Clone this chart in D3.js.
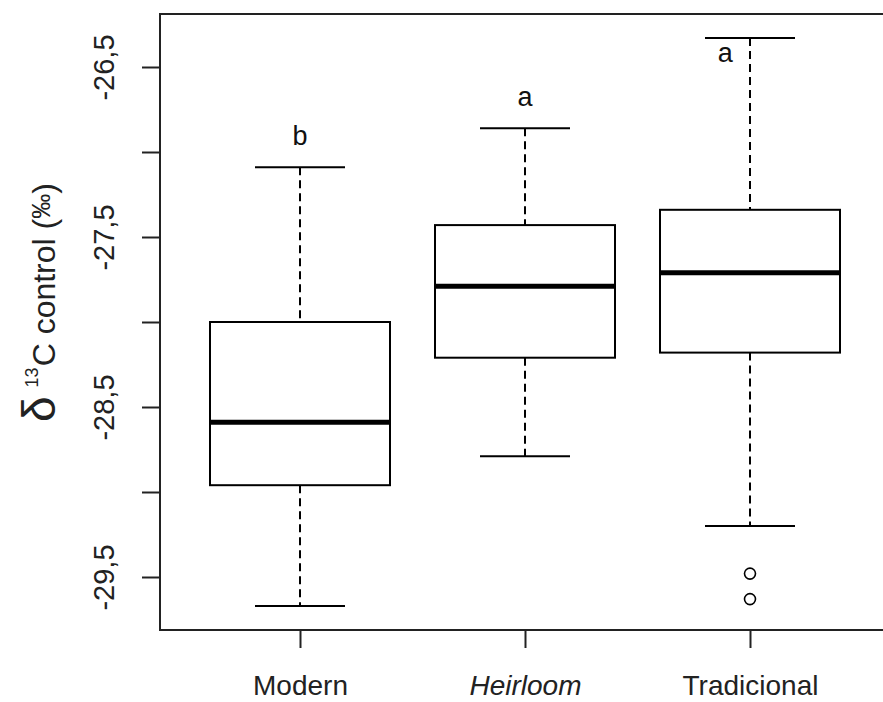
<!DOCTYPE html>
<html>
<head>
<meta charset="utf-8">
<script src="https://cdn.jsdelivr.net/npm/d3@7"></script>
<style>
  html, body { margin: 0; padding: 0; background: #fff; }
  svg { display: block; font-family: "Liberation Sans", Arial, sans-serif; }
</style>
</head>
<body>
<svg id="chart" width="883" height="702"></svg>
<script>
// Carbon isotope composition (δ13C, ‰) by cultivar group
const categories   = ["Modern", "Heirloom", "Tradicional"];
const italicCats   = [false, true, false];
const whiskerHigh  = [-27.09, -26.86, -26.33];
const upperQuart   = [-28.00, -27.43, -27.34];
const medians      = [-28.59, -27.79, -27.71];
const lowerQuart   = [-28.96, -28.21, -28.18];
const whiskerLow   = [-29.67, -28.79, -29.20];
const outliers     = [[], [], [-29.48, -29.63]];
const groupLetters = ["b", "a", "a"];
const letterValues = [-26.96, -26.73, -26.47];
const letterShift  = [0, 0, -0.11];   // horizontal offset of letter, in group units
const yTicks       = [-26.5, -27, -27.5, -28, -28.5, -29, -29.5];
const yTickLabels  = ["-26,5", "", "-27,5", "", "-28,5", "", "-29,5"];

const svg = d3.select("#chart");
const frame = { left: 160, top: 14, right: 905, bottom: 630 };

const x = d3.scaleLinear().domain([1, 3]).range([300, 750]);
const y = d3.scaleLinear().domain([-26.5, -29.5]).range([67, 577]);
const unit = x(2) - x(1);
const boxHalf = unit * 0.4;
const capHalf = unit * 0.2;

const groups = svg.append("g").selectAll("g")
  .data(categories.map((c, i) => ({
    i, c, hi: whiskerHigh[i], q3: upperQuart[i], med: medians[i],
    q1: lowerQuart[i], lo: whiskerLow[i], out: outliers[i]
  })))
  .join("g")
  .attr("transform", d => `translate(${x(d.i + 1)},0)`);

// dashed whiskers
groups.append("line")
  .attr("x1", 0).attr("x2", 0)
  .attr("y1", d => y(d.hi)).attr("y2", d => y(d.q3))
  .attr("stroke", "#000").attr("stroke-width", 2).attr("stroke-dasharray", "8,5");
groups.append("line")
  .attr("x1", 0).attr("x2", 0)
  .attr("y1", d => y(d.q1)).attr("y2", d => y(d.lo))
  .attr("stroke", "#000").attr("stroke-width", 2).attr("stroke-dasharray", "8,5");

// whisker caps
groups.selectAll("line.cap")
  .data(d => [d.hi, d.lo])
  .join("line").attr("class", "cap")
  .attr("x1", -capHalf).attr("x2", capHalf)
  .attr("y1", v => y(v)).attr("y2", v => y(v))
  .attr("stroke", "#000").attr("stroke-width", 2);

// boxes
groups.append("rect")
  .attr("x", -boxHalf).attr("width", boxHalf * 2)
  .attr("y", d => y(d.q3)).attr("height", d => y(d.q1) - y(d.q3))
  .attr("fill", "#fff").attr("stroke", "#000").attr("stroke-width", 2);

// medians
groups.append("line")
  .attr("x1", -boxHalf).attr("x2", boxHalf)
  .attr("y1", d => y(d.med)).attr("y2", d => y(d.med))
  .attr("stroke", "#000").attr("stroke-width", 5);

// outliers
groups.selectAll("circle")
  .data(d => d.out)
  .join("circle")
  .attr("cx", 0).attr("cy", v => y(v)).attr("r", 5.5)
  .attr("fill", "none").attr("stroke", "#000").attr("stroke-width", 1.6);

// significance letters
svg.append("g").selectAll("text")
  .data(groupLetters)
  .join("text")
  .attr("x", (d, i) => x(i + 1 + letterShift[i]))
  .attr("y", (d, i) => y(letterValues[i]))
  .attr("text-anchor", "middle")
  .attr("font-size", 27)
  .attr("fill", "#111")
  .text(d => d);

// plot frame
svg.append("rect")
  .attr("x", frame.left).attr("y", frame.top)
  .attr("width", frame.right - frame.left).attr("height", frame.bottom - frame.top)
  .attr("fill", "none").attr("stroke", "#222").attr("stroke-width", 2);

// y axis
const yAxis = svg.append("g")
  .attr("transform", `translate(${frame.left},0)`)
  .call(d3.axisLeft(y).tickValues(yTicks).tickSize(18).tickFormat(""));
yAxis.select(".domain").remove();
yAxis.selectAll(".tick line").attr("stroke", "#222").attr("stroke-width", 2);
yAxis.selectAll(".tick")
  .append("text")
  .attr("transform", "translate(-46,0) rotate(-90)")
  .attr("text-anchor", "middle")
  .attr("fill", "#222")
  .attr("font-size", 29)
  .text((d, i) => yTickLabels[i]);

// x axis
const xAxis = svg.append("g")
  .attr("transform", `translate(0,${frame.bottom})`)
  .call(d3.axisBottom(x).tickValues([1, 2, 3]).tickSize(18).tickFormat(""));
xAxis.select(".domain").remove();
xAxis.selectAll(".tick line").attr("stroke", "#222").attr("stroke-width", 2);
xAxis.selectAll(".tick")
  .append("text")
  .attr("y", 65)
  .attr("text-anchor", "middle")
  .attr("fill", "#222")
  .attr("font-size", 28)
  .attr("font-style", (d, i) => italicCats[i] ? "italic" : "normal")
  .text((d, i) => categories[i]);

// y axis title: δ13C control (‰)
const title = svg.append("text")
  .attr("transform", "translate(55,422) rotate(-90)")
  .attr("text-anchor", "start")
  .attr("fill", "#222");
title.append("tspan").attr("font-size", 46).text("δ");
title.append("tspan").attr("font-size", 18).attr("dx", 9).attr("dy", -17).text("13");
title.append("tspan").attr("font-size", 32).attr("dx", 1).attr("dy", 17).text("C control (");
title.append("tspan").attr("font-size", 25).attr("dy", -5).text("‰");
title.append("tspan").attr("font-size", 32).attr("dy", 5).text(")");
</script>
</body>
</html>
